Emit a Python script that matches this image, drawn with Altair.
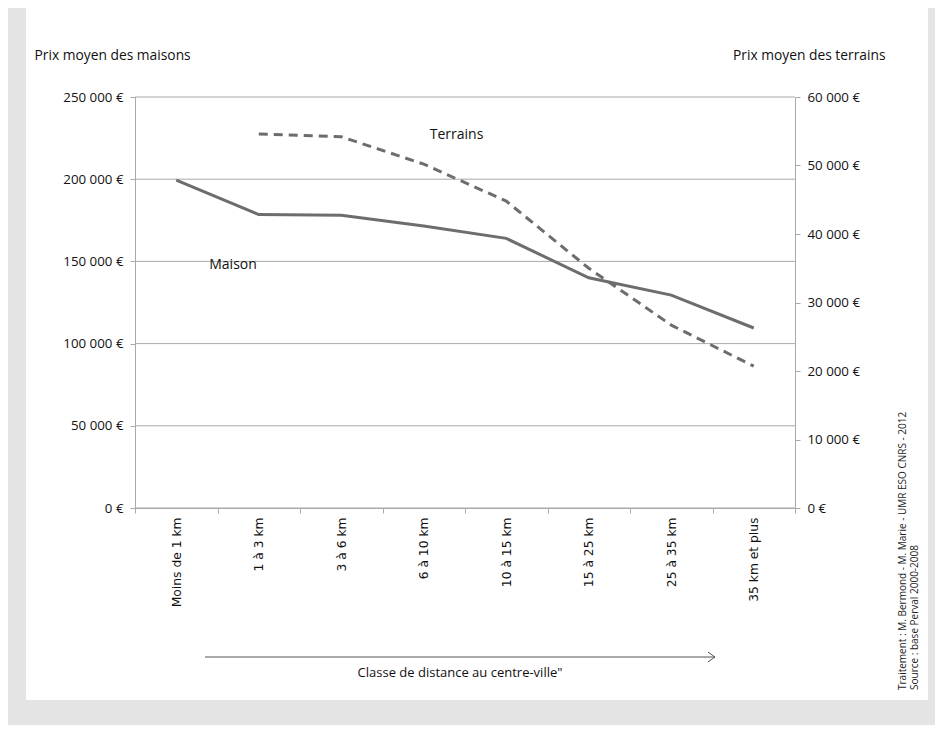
import altair as alt
import pandas as pd

categories = ["Moins de 1 km", "1 à 3 km", "3 à 6 km", "6 à 10 km",
              "10 à 15 km", "15 à 25 km", "25 à 35 km", "35 km et plus"]
maison = [199500, 178500, 178000, 171500, 164000, 140000, 129500, 109500]
terrains = [None, 54600, 54200, 50200, 44800, 35000, 26700, 20700]

left_ticks = [0, 50000, 100000, 150000, 200000, 250000]
right_ticks = [0, 10000, 20000, 30000, 40000, 50000, 60000]

labels_series = ["Maison", "Terrains"]
labels_cat = ["Moins de 1 km", "6 à 10 km"]
labels_val = [148000, 54400]

source_lines = ["Traitement : M. Bermond - M. Marie  - UMR ESO CNRS - 2012",
                "Source : base Perval 2000-2008"]
x_title = "Classe de distance au centre-ville\""

FONT = "Open Sans"
LINE = "#6d6d6d"
GRID = "#a9a9a9"
BG = "#e4e4e4"

df_m = pd.DataFrame({"cat": categories, "v": maison})
df_t = pd.DataFrame({"cat": categories, "v": terrains}).dropna()
df_lm = pd.DataFrame({"cat": [labels_cat[0]], "v": [labels_val[0]], "t": [labels_series[0]]})
df_lt = pd.DataFrame({"cat": [labels_cat[1]], "v": [labels_val[1]], "t": [labels_series[1]]})
df_grid = pd.DataFrame({"v": left_ticks})
one = pd.DataFrame({"k": [0]})

x_enc = alt.X("cat:N", sort=categories, bandPosition=0.5,
              scale=alt.Scale(type="band", paddingInner=0, paddingOuter=0),
              axis=alt.Axis(title=None, labelAngle=-90, labelFont="DejaVu Sans",
                            labelFontSize=12.3, labelColor="#111", tickBand="extent",
                            tickSize=5, tickColor=GRID, domainColor=GRID,
                            labelPadding=4, grid=False, zindex=1))

euro = "replace(format(datum.value, ',d'), ',', ' ') + ' €'"

y_left = alt.Y("v:Q", scale=alt.Scale(domain=[0, 250000], nice=False),
               axis=alt.Axis(orient="left", values=left_ticks,
                             labelExpr=euro, grid=False, domainColor=GRID,
                             tickColor=GRID, tickSize=5, labelPadding=7,
                             labelFont=FONT, labelFontSize=13.3, labelColor="#111",
                             title="Prix moyen des maisons", titleAngle=0,
                             titleAlign="left", titleBaseline="middle",
                             titleX=-101, titleY=-42, titleFont=FONT,
                             titleFontSize=13.8, titleFontWeight="normal",
                             titleColor="#111", zindex=1))
y_right = alt.Y("v:Q", scale=alt.Scale(domain=[0, 60000], nice=False),
                axis=alt.Axis(orient="right", values=right_ticks,
                              labelExpr=euro, grid=False, domainColor=GRID,
                              tickColor=GRID, tickSize=5, labelPadding=7,
                              labelFont=FONT, labelFontSize=13.3, labelColor="#111",
                              title="Prix moyen des terrains", titleAngle=0,
                              titleAlign="right", titleBaseline="middle",
                              titleX=90, titleY=-42, titleFont=FONT,
                              titleFontSize=13.8, titleFontWeight="normal",
                              titleColor="#111", zindex=1))

bg_gray = alt.Chart(one).mark_rect(color=BG).encode(
    x=alt.value(-127), x2=alt.value(800), y=alt.value(-89), y2=alt.value(628))
bg_white = alt.Chart(one).mark_rect(color="white").encode(
    x=alt.value(-109), x2=alt.value(793), y=alt.value(-89), y2=alt.value(603))

grid = alt.Chart(df_grid).mark_rule(color=GRID, strokeWidth=1).encode(
    y=alt.Y("v:Q", scale=alt.Scale(domain=[0, 250000], nice=False), axis=None))

line_m = alt.Chart(df_m).mark_line(color=LINE, strokeWidth=3).encode(x=x_enc, y=y_left)
line_t = alt.Chart(df_t).mark_line(color=LINE, strokeWidth=3, strokeDash=[9, 6]).encode(
    x=x_enc, y=y_right)

text_m = alt.Chart(df_lm).mark_text(align="left", baseline="middle", dx=33, font=FONT,
                                    fontSize=14, color="#111").encode(
    x=x_enc, y=alt.Y("v:Q", scale=alt.Scale(domain=[0, 250000], nice=False), axis=None),
    text="t:N")
text_t = alt.Chart(df_lt).mark_text(align="left", baseline="middle", dx=6, font=FONT,
                                    fontSize=14, color="#111").encode(
    x=x_enc, y=alt.Y("v:Q", scale=alt.Scale(domain=[0, 60000], nice=False), axis=None),
    text="t:N")

arrow = alt.Chart(one).mark_rule(color="#555", strokeWidth=1).encode(
    x=alt.value(70), x2=alt.value(580), y=alt.value(560))
arrow_head = alt.Chart(one).mark_point(shape="M-1,-0.7L0,0L-1,0.7", filled=False,
                                       color="#555", size=200, strokeWidth=1,
                                       opacity=1).encode(
    x=alt.value(580), y=alt.value(560))
xtitle = alt.Chart(one).mark_text(font=FONT, fontSize=13, color="#111",
                                  baseline="middle").encode(
    x=alt.value(325), y=alt.value(576), text=alt.value(x_title))
src1 = alt.Chart(one).mark_text(font=FONT, fontSize=10, color="#222", angle=270,
                                align="left", baseline="middle").encode(
    x=alt.value(768), y=alt.value(593), text=alt.value(source_lines[0]))
src2 = alt.Chart(one).mark_text(font=FONT, fontSize=10, color="#222", angle=270,
                                align="left", baseline="middle").encode(
    x=alt.value(780), y=alt.value(593), text=alt.value(source_lines[1]))

chart = alt.layer(bg_gray, bg_white, grid, line_m, line_t, text_m, text_t,
                  arrow, arrow_head, xtitle, src1, src2).resolve_scale(
    y="independent").properties(
    width=660, height=411, padding=0, background=BG
).configure_view(stroke=None)

chart.save("out.html", embed_options={"renderer": "svg", "actions": False})
